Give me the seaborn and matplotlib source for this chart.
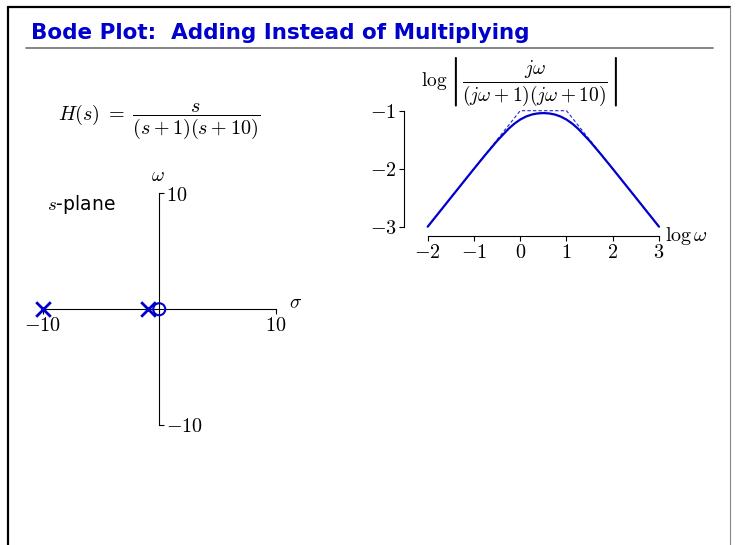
import matplotlib
matplotlib.use('Agg')
import matplotlib.pyplot as plt
import seaborn as sns
from matplotlib.lines import Line2D

sns.set_theme(style='white')
plt.rcParams['font.family'] = ['DejaVu Sans']
plt.rcParams['mathtext.fontset'] = 'cm'
plt.rcParams['text.color'] = 'black'

# poles and zeros of H(s) = s / ((s+1)(s+10))
pole_re = [-10, -1]
pole_im = [0, 0]
zero_re = [0]
zero_im = [0]

# Bode magnitude, log|H(jw)| vs log w
log_w = [-2.0, -1.75, -1.5, -1.25, -1.0, -0.75, -0.5, -0.25, -0.125, 0.0, 0.125,
         0.25, 0.375, 0.5, 0.625, 0.75, 0.875, 1.0, 1.125, 1.25, 1.5, 1.75,
         2.0, 2.25, 2.5, 2.75, 3.0]
log_mag = [-3.000, -2.750, -2.500, -2.251, -2.002, -1.757, -1.521, -1.310, -1.223,
           -1.153, -1.101, -1.066, -1.047, -1.041, -1.047, -1.066, -1.101, -1.153,
           -1.223, -1.310, -1.521, -1.757, -2.002, -2.251, -2.500, -2.750, -3.000]
# straight-line asymptotes
asym_x = [-2, 0, 1, 3]
asym_y = [-3, -1, -1, -3]

pz_ticks = [-10, 10]
bode_xticks = [-2, -1, 0, 1, 2, 3]
bode_yticks = [-3, -2, -1]

W, H = 738, 545
blue = '#0000cc'

fig = plt.figure(figsize=(W / 100, H / 100), dpi=100)


def fx(x):
    return x / W


def fy(y):
    return 1 - y / H


# slide frame + title
fig.add_artist(Line2D([fx(8), fx(8)], [fy(7), fy(545)], color='black', lw=1.6))
fig.add_artist(Line2D([fx(8), fx(730)], [fy(7), fy(7)], color='black', lw=1.6))
fig.add_artist(Line2D([fx(730), fx(730)], [fy(7), fy(545)], color='#888888', lw=0.8))
fig.add_artist(Line2D([fx(26), fx(713)], [fy(48), fy(48)], color='#707070', lw=1.2))
fig.text(fx(31), fy(33), 'Bode Plot:  Adding Instead of Multiplying', color=blue,
         fontsize=15.5, fontweight='bold', va='center', ha='left')

fig.text(fx(159), fy(121), r'$H(s)\;=\;\dfrac{s}{(s+1)(s+10)}$', fontsize=14.5,
         ha='center', va='center')

# s-plane
ax1 = fig.add_axes([fx(42.5), fy(425), (276 - 42.5) / W, (425 - 193.5) / H])
ax1.set_facecolor('none')
sns.scatterplot(x=pole_re, y=pole_im, marker='x', s=110, color=blue, linewidth=2,
                clip_on=False, ax=ax1, zorder=5)
sns.scatterplot(x=zero_re, y=zero_im, marker='o', s=75, facecolor='none',
                edgecolor=blue, linewidth=1.5, clip_on=False, ax=ax1, zorder=5)
ax1.set_xlim(-10, 10)
ax1.set_ylim(-10, 10)
for side in ['top', 'left']:
    ax1.spines[side].set_visible(False)
ax1.spines['bottom'].set_position(('data', 0))
ax1.spines['right'].set_position(('data', 0))
for side in ['bottom', 'right']:
    ax1.spines[side].set_color('black')
    ax1.spines[side].set_linewidth(0.8)
ax1.yaxis.tick_right()
ax1.set_xticks(pz_ticks)
ax1.set_xticklabels([f'${t}$' for t in pz_ticks])
ax1.set_yticks(pz_ticks)
ax1.set_yticklabels([f'${t}$' for t in pz_ticks])
ax1.tick_params(axis='both', direction='out', length=3.5, width=0.8, color='black',
                labelsize=14.5, pad=1.5, bottom=True, right=True, left=False,
                labelcolor='black')
ax1.set_xlabel('')
ax1.set_ylabel('')
fig.text(fx(158), fy(175), r'$\omega$', fontsize=14, ha='center', va='center')
fig.text(fx(289), fy(303), r'$\sigma$', fontsize=14, ha='left', va='center')
fig.text(fx(47), fy(205), r'$s$-plane', fontsize=13.5, ha='left', va='center')

# Bode magnitude
ax2 = fig.add_axes([fx(427.7), fy(226.7), (659 - 427.7) / W, (226.7 - 110.7) / H])
ax2.set_facecolor('none')
sns.lineplot(x=asym_x, y=asym_y, color=blue, linewidth=0.8, linestyle=(0, (3, 2)),
             alpha=0.85, clip_on=False, ax=ax2)
sns.lineplot(x=log_w, y=log_mag, color=blue, linewidth=1.6, clip_on=False, ax=ax2)
ax2.set_xlim(-2, 3)
ax2.set_ylim(-3, -1)
ax2.set_xticks(bode_xticks)
ax2.set_xticklabels([f'${t}$' for t in bode_xticks])
ax2.set_yticks(bode_yticks)
ax2.set_yticklabels([f'${t}$' for t in bode_yticks])
sns.despine(ax=ax2, offset={'left': 17, 'bottom': 6.5}, trim=True)
for side in ['bottom', 'left']:
    ax2.spines[side].set_color('black')
    ax2.spines[side].set_linewidth(0.8)
ax2.tick_params(axis='both', direction='out', length=3.5, width=0.8, color='black',
                labelsize=14.5, pad=2, bottom=True, left=True, labelcolor='black')
ax2.set_xlabel('')
ax2.set_ylabel('')
fig.text(fx(665), fy(236), r'$\log\omega$', fontsize=14.5, ha='left', va='center')
fig.text(fx(520), fy(81),
         r'$\log\left|\dfrac{j\omega}{(j\omega+1)(j\omega+10)}\right|$',
         fontsize=14, ha='center', va='center')

fig.savefig('out.png', dpi=100)
